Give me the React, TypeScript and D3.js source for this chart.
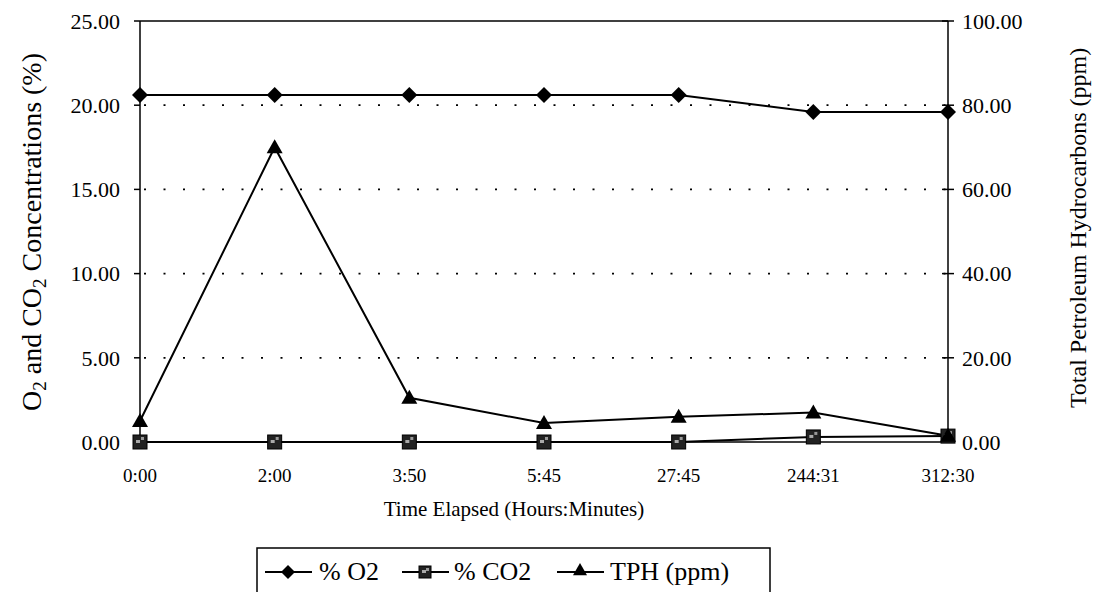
import React from "react";
import * as d3 from "d3";

const categories = ["0:00", "2:00", "3:50", "5:45", "27:45", "244:31", "312:30"];
const o2Values = [20.6, 20.6, 20.6, 20.6, 20.6, 19.6, 19.6];
const co2Values = [0, 0, 0, 0, 0, 0.3, 0.35];
const tphValues = [5, 70, 10.5, 4.5, 6, 7, 1.5];
const leftTicks = [0, 5, 10, 15, 20, 25];
const rightTicks = [0, 20, 40, 60, 80, 100];
const gridTicks = [5, 10, 15, 20];

const W = 1101;
const H = 592;
const M = { left: 140, right: 948, top: 21, bottom: 442 };
const FONT = "'Liberation Serif', 'DejaVu Serif', serif";

export default function App() {
  const x = d3.scalePoint<string>().domain(categories).range([M.left, M.right]).padding(0);
  const yL = d3.scaleLinear().domain([0, 25]).range([M.bottom, M.top]);
  const yR = d3.scaleLinear().domain([0, 100]).range([M.bottom, M.top]);

  const lineL = d3
    .line<number>()
    .x((_, i) => x(categories[i]) as number)
    .y((d) => yL(d));
  const lineR = d3
    .line<number>()
    .x((_, i) => x(categories[i]) as number)
    .y((d) => yR(d));

  const diamond = (cx: number, cy: number, r = 8) =>
    `M${cx},${cy - r}L${cx + r},${cy}L${cx},${cy + r}L${cx - r},${cy}Z`;
  const tri = (cx: number, cy: number, s = 8) =>
    `M${cx},${cy - s}L${cx + s},${cy + s * 0.75}L${cx - s},${cy + s * 0.75}Z`;

  const square = (cx: number, cy: number, key: any, s = 7) => (
    <g key={key}>
      <rect x={cx - s} y={cy - s} width={2 * s} height={2 * s} fill="#222" stroke="#000" strokeWidth={1} />
      <rect x={cx - s + 3} y={cy - 2} width={4} height={3} fill="#aaa" />
      <rect x={cx + 1} y={cy - s + 2} width={3} height={3} fill="#999" />
    </g>
  );

  const legendY = 580;
  const lx = 257;
  const fs = 26;

  return (
    <svg width={W} height={H} style={{ position: "absolute", left: 0, top: 0 }} fontFamily={FONT}>
      <rect width={W} height={H} fill="#fff" />
      {/* grid */}
      {gridTicks.map((t) => (
        <line
          key={t}
          x1={M.left + 4}
          x2={M.right + 4}
          y1={yL(t)}
          y2={yL(t)}
          stroke="#000"
          strokeWidth={1.8}
          strokeDasharray="2,17.5"
        />
      ))}
      {/* frame */}
      <line x1={M.left} x2={M.right} y1={M.top} y2={M.top} stroke="#000" strokeWidth={1.5} />
      <line x1={M.left} x2={M.right} y1={M.bottom} y2={M.bottom} stroke="#000" strokeWidth={1.5} />
      <line x1={M.left} x2={M.left} y1={M.top} y2={M.bottom} stroke="#000" strokeWidth={1.5} />
      <line x1={M.right} x2={M.right} y1={M.top} y2={M.bottom} stroke="#000" strokeWidth={1.5} />
      {/* left ticks */}
      {leftTicks.map((t) => (
        <g key={t}>
          <line x1={M.left - 6} x2={M.left} y1={yL(t)} y2={yL(t)} stroke="#000" strokeWidth={1.5} />
          <text x={M.left - 20} y={yL(t)} dy="0.35em" textAnchor="end" fontSize={22}>
            {t.toFixed(2)}
          </text>
        </g>
      ))}
      {/* right ticks */}
      {rightTicks.map((t) => (
        <g key={t}>
          <line x1={M.right - 6} x2={M.right + 6} y1={yR(t)} y2={yR(t)} stroke="#000" strokeWidth={1.5} />
          <text x={M.right + 14} y={yR(t)} dy="0.35em" textAnchor="start" fontSize={22}>
            {t.toFixed(2)}
          </text>
        </g>
      ))}
      {/* x labels */}
      {categories.map((c) => (
        <text key={c} x={x(c)} y={482} textAnchor="middle" fontSize={19}>
          {c}
        </text>
      ))}
      <text x={514} y={516} textAnchor="middle" fontSize={21}>
        Time Elapsed (Hours:Minutes)
      </text>
      {/* left title */}
      <text transform={`translate(41,232) rotate(-90)`} textAnchor="middle" fontSize={28}>
        O<tspan fontSize={19} dy={5}>2</tspan>
        <tspan dy={-5}> and CO</tspan>
        <tspan fontSize={19} dy={5}>2</tspan>
        <tspan dy={-5}> Concentrations (%)</tspan>
      </text>
      {/* right title */}
      <text transform={`translate(1086,228) rotate(-90)`} textAnchor="middle" fontSize={24}>
        Total Petroleum Hydrocarbons (ppm)
      </text>
      {/* series lines */}
      <path d={lineL(co2Values) || ""} fill="none" stroke="#000" strokeWidth={2} />
      <path d={lineL(o2Values) || ""} fill="none" stroke="#000" strokeWidth={2} />
      <path d={lineR(tphValues) || ""} fill="none" stroke="#000" strokeWidth={2} />
      {/* markers */}
      {co2Values.map((v, i) => square(x(categories[i]) as number, yL(v), "c" + i))}
      {o2Values.map((v, i) => (
        <path key={"o" + i} d={diamond(x(categories[i]) as number, yL(v))} fill="#000" />
      ))}
      {tphValues.map((v, i) => (
        <path key={"t" + i} d={tri(x(categories[i]) as number, yR(v))} fill="#000" />
      ))}
      {/* legend */}
      <rect x={lx} y={548} width={513} height={60} fill="#fff" stroke="#000" strokeWidth={1.5} />
      <line x1={lx + 8} x2={lx + 55} y1={legendY - 8} y2={legendY - 8} stroke="#000" strokeWidth={2} />
      <path d={diamond(lx + 31, legendY - 8, 7)} fill="#000" />
      <text x={lx + 62} y={legendY} fontSize={fs}>% O2</text>
      <line x1={lx + 145} x2={lx + 192} y1={legendY - 8} y2={legendY - 8} stroke="#000" strokeWidth={2} />
      {square(lx + 168, legendY - 8, "lg", 6)}
      <text x={lx + 197} y={legendY} fontSize={fs}>% CO2</text>
      <line x1={lx + 300} x2={lx + 347} y1={legendY - 8} y2={legendY - 8} stroke="#000" strokeWidth={2} />
      <path d={tri(lx + 323, legendY - 10, 7)} fill="#000" />
      <text x={lx + 353} y={legendY} fontSize={fs}>TPH (ppm)</text>
    </svg>
  );
}
